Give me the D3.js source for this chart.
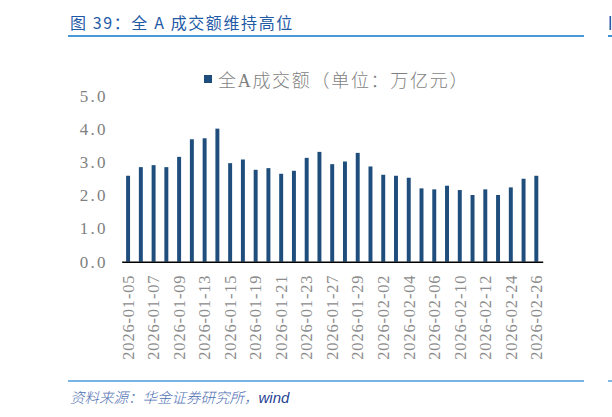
<!DOCTYPE html>
<html>
<head>
<meta charset="utf-8">
<script src="https://cdn.jsdelivr.net/npm/d3@7"></script>
<style>
  body { margin: 0; background: #fff; }
  svg { display: block; }
</style>
</head>
<body>
<svg id="chart"></svg>
<script>
// 交易日 / 全A成交额（万亿元）
const dates = [
  "2026-01-05","2026-01-06","2026-01-07","2026-01-08","2026-01-09",
  "2026-01-12","2026-01-13","2026-01-14","2026-01-15","2026-01-16",
  "2026-01-19","2026-01-20","2026-01-21","2026-01-22","2026-01-23",
  "2026-01-26","2026-01-27","2026-01-28","2026-01-29","2026-01-30",
  "2026-02-02","2026-02-03","2026-02-04","2026-02-05","2026-02-06",
  "2026-02-09","2026-02-10","2026-02-11","2026-02-12","2026-02-13",
  "2026-02-24","2026-02-25","2026-02-26"
];
const turnover = [
  2.59, 2.85, 2.91, 2.85, 3.16,
  3.69, 3.72, 4.01, 2.97, 3.08,
  2.77, 2.82, 2.65, 2.74, 3.13,
  3.31, 2.94, 3.02, 3.28, 2.87,
  2.62, 2.59, 2.53, 2.21, 2.18,
  2.29, 2.16, 2.01, 2.18, 2.01,
  2.24, 2.50, 2.59
];
const yTicks = [0, 1, 2, 3, 4, 5];
const titleText = "图 39：全 A 成交额维持高位";
const legendText = "全A成交额（单位：万亿元）";
const sourceText = "资料来源：华金证券研究所，";
const sourceTail = "wind";

const W = 612, H = 417;
const svg = d3.select("#chart").attr("width", W).attr("height", H);

// title + rule
svg.append("text")
  .attr("x", 70).attr("y", 29)
  .attr("fill", "#1f5aa6")
  .style("font-family", "'Noto Sans CJK SC', 'Liberation Sans', sans-serif")
  .style("font-size", "16px")
  .style("letter-spacing", "1.6px")
  .text(titleText);
svg.append("line")
  .attr("x1", 68).attr("x2", 584).attr("y1", 36).attr("y2", 36)
  .attr("stroke", "#0f76c9").attr("stroke-width", 1.6);

// neighbouring panel, cut off at the right edge
svg.append("line")
  .attr("x1", 608).attr("x2", 612).attr("y1", 36).attr("y2", 36)
  .attr("stroke", "#0f76c9").attr("stroke-width", 1.6);
svg.append("rect")
  .attr("x", 609.5).attr("y", 16).attr("width", 1.6).attr("height", 14)
  .attr("fill", "#2a5aa3");

// scales
const x = d3.scaleBand()
  .domain(dates)
  .range([121.7, 542.7])
  .paddingInner(0.69)
  .paddingOuter(0.345);
const y = d3.scaleLinear([0, 5], [261.7, 95.8]);

// bars
svg.append("g")
  .selectAll("rect")
  .data(turnover)
  .join("rect")
  .attr("x", (d, i) => x(dates[i]))
  .attr("width", x.bandwidth())
  .attr("y", d => y(d))
  .attr("height", d => y(0) - y(d))
  .attr("fill", "#1f4e7d");

// y axis (labels only)
const yAxis = svg.append("g")
  .attr("transform", "translate(121.7,0)")
  .call(d3.axisLeft(y).tickValues(yTicks).tickFormat(d3.format(".1f")).tickSize(0).tickPadding(14));
yAxis.select(".domain").remove();
yAxis.selectAll("text")
  .attr("fill", "#7f7f7f")
  .style("font-family", "'Liberation Serif', serif")
  .style("font-size", "17px")
  .style("letter-spacing", "2.2px");

// x axis
const xAxis = svg.append("g")
  .attr("transform", `translate(0,${y(0)})`)
  .call(d3.axisBottom(x)
    .tickValues(dates.filter((d, i) => i % 2 === 0))
    .tickSize(0).tickSizeOuter(0));
xAxis.select(".domain").attr("stroke", "#000").attr("stroke-width", 1.6);
xAxis.selectAll("text")
  .attr("transform", "rotate(-90)")
  .attr("x", -13).attr("y", 0).attr("dy", "0.35em")
  .attr("text-anchor", "end")
  .attr("fill", "#8c8c8c")
  .style("font-family", "'Liberation Serif', serif")
  .style("font-size", "16.5px")
  .style("letter-spacing", "0.8px");

// legend
svg.append("rect")
  .attr("x", 204).attr("y", 75).attr("width", 8).attr("height", 8)
  .attr("fill", "#1f4e7d");
svg.append("text")
  .attr("x", 218).attr("y", 87)
  .attr("fill", "#7f7f7f")
  .style("font-family", "'Liberation Serif', 'Noto Sans CJK SC', serif")
  .style("font-size", "18px")
  .style("font-weight", 300)
  .style("letter-spacing", "1.7px")
  .text(legendText);

// source + rule
svg.append("line")
  .attr("x1", 68).attr("x2", 584).attr("y1", 381).attr("y2", 381)
  .attr("stroke", "#4a9bdc").attr("stroke-width", 1.4);
svg.append("line")
  .attr("x1", 608).attr("x2", 612).attr("y1", 381).attr("y2", 381)
  .attr("stroke", "#4a9bdc").attr("stroke-width", 1.4);
const src = svg.append("text")
  .attr("x", 70).attr("y", 403)
  .style("font-family", "'Noto Sans CJK SC', sans-serif")
  .style("font-size", "14.5px")
  .style("font-style", "italic");
src.append("tspan").attr("fill", "#4f6fb3").style("font-weight", 300).text(sourceText);
src.append("tspan").attr("fill", "#1f3f94")
  .style("font-family", "'Liberation Sans', sans-serif")
  .style("font-size", "15px")
  .text(sourceTail);
</script>
</body>
</html>
